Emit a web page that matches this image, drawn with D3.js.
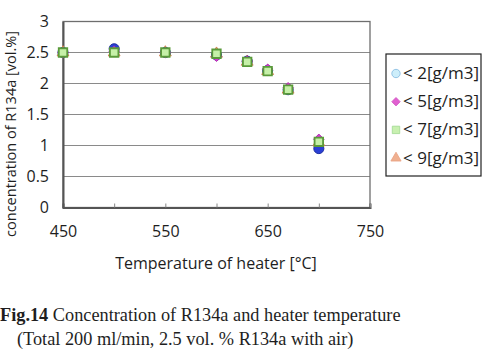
<!DOCTYPE html>
<html><head><meta charset="utf-8">
<script src="https://cdn.jsdelivr.net/npm/d3@7"></script>
<style>body{margin:0;background:#fff}svg{display:block}</style>
</head><body>
<script>
const xTicks = [450, 500, 550, 600, 650, 700, 750];
const xLabels = [450, 550, 650, 750];
const yTicks = [0, 0.5, 1, 1.5, 2, 2.5, 3];
const seriesNames = ["< 2[g/m3]", "< 5[g/m3]", "< 7[g/m3]", "< 9[g/m3]"];
const temp2 = [450, 500, 550, 600, 630, 650, 670, 700];
const conc2 = [2.5, 2.56, 2.5, 2.46, 2.36, 2.21, 1.9, 0.95];
const temp5 = [450, 500, 550, 600, 630, 650, 670, 700];
const conc5 = [2.5, 2.52, 2.5, 2.44, 2.36, 2.23, 1.93, 1.1];
const temp7 = [450, 500, 550, 600, 630, 650, 670, 700];
const conc7 = [2.5, 2.5, 2.5, 2.48, 2.35, 2.2, 1.9, 1.06];
const temp9 = [450, 500, 550, 600, 630, 650, 670, 700];
const conc9 = [2.5, 2.5, 2.5, 2.48, 2.35, 2.2, 1.9, 1.05];

const W = 485, H = 360;
const svg = d3.select("body").append("svg").attr("width", W).attr("height", H);
const m = {l: 63, r: 370, t: 21.5, b: 207.5};
const x = d3.scaleLinear().domain([450, 750]).range([m.l, m.r]);
const y = d3.scaleLinear().domain([0, 3]).range([m.b, m.t]);
const font = "'Open Sans', sans-serif";
const ink = "#1e1e1e";

// grid
svg.append("g").selectAll("line").data(yTicks.filter(d => d > 0 && d < 3)).join("line")
  .attr("x1", m.l).attr("x2", m.r).attr("y1", d => y(d)).attr("y2", d => y(d))
  .attr("stroke", "#8a8a8a").attr("stroke-width", 1.1);

// frame
svg.append("rect").attr("x", m.l).attr("y", m.t).attr("width", m.r - m.l).attr("height", m.b - m.t)
  .attr("fill", "none").attr("stroke", "#6e6e6e").attr("stroke-width", 1.3);

// x axis
const xAxis = d3.axisBottom(x).tickValues(xTicks).tickSize(-4).tickFormat(d => xLabels.includes(d) ? d : "");
const gx = svg.append("g").attr("transform", `translate(0,${m.b})`).call(xAxis);
gx.select(".domain").attr("stroke", "#555").attr("stroke-width", 2);
gx.selectAll(".tick line").attr("stroke", "#888");
gx.selectAll(".tick text").attr("font-family", font).attr("font-size", 16).attr("fill", ink)
  .attr("y", 0).attr("dy", "1.85em");

// y axis
const yAxis = d3.axisLeft(y).tickValues(yTicks).tickSize(0).tickPadding(14).tickFormat(d => d);
const gy = svg.append("g").attr("transform", `translate(${m.l},0)`).call(yAxis);
gy.select(".domain").attr("stroke", "#555").attr("stroke-width", 2);
gy.selectAll(".tick text").attr("font-family", font).attr("font-size", 16).attr("fill", ink);

// axis titles
svg.append("text").attr("transform", "translate(15.5,134) rotate(-90)").attr("text-anchor", "middle")
  .attr("font-family", font).attr("font-size", 14.5).attr("fill", ink).text("concentration of R134a [vol.%]");
svg.append("text").attr("x", 216).attr("y", 269).attr("text-anchor", "middle")
  .attr("font-family", font).attr("font-size", 16).attr("fill", ink).text("Temperature of heater [°C]");

// markers
const sym = [d3.symbolCircle, d3.symbolDiamond2, d3.symbolSquare, d3.symbolTriangle];
const fills = ["#2a3fd6", "#d040d0", "#c6f0a8", "#f0a878"];
const strokes = ["#1f2fa0", "#b030b0", "#5a9a3a", "#d08050"];
const sizes = [80, 70, 72, 60];
const data = [
  temp2.map((t, i) => [t, conc2[i]]),
  temp5.map((t, i) => [t, conc5[i]]),
  temp7.map((t, i) => [t, conc7[i]]),
  temp9.map((t, i) => [t, conc9[i]])
];
// draw order: triangles (<9), circles, diamonds, squares on top
const order = [3, 0, 1, 2];
order.forEach(k => {
  svg.append("g").selectAll("path").data(data[k]).join("path")
    .attr("transform", d => `translate(${x(d[0])},${y(d[1])})`)
    .attr("d", d3.symbol(sym[k], sizes[k]))
    .attr("fill", fills[k]).attr("stroke", strokes[k]).attr("stroke-width", k === 2 ? 1.8 : 1);
});

// legend
const lg = svg.append("g");
lg.append("rect").attr("x", 386).attr("y", 54).attr("width", 95).attr("height", 122)
  .attr("fill", "#fff").attr("stroke", "#222").attr("stroke-width", 1.2);
const lfill = ["#cdeefa", "#e060d0", "#c8f0b0", "#f0b090"];
const lstroke = ["#80b8e0", "#d050c0", "#a0d890", "#e8a080"];
const lsize = [55, 45, 55, 45];
seriesNames.forEach((n, i) => {
  const yy = 73.5 + i * 28.2;
  lg.append("path").attr("transform", `translate(396,${yy})`).attr("d", d3.symbol(sym[i], lsize[i]))
    .attr("fill", lfill[i]).attr("stroke", lstroke[i]).attr("stroke-width", 0.8);
  lg.append("text").attr("x", 403).attr("y", yy + 5.5).attr("font-family", font).attr("font-size", 16.5)
    .attr("fill", ink).attr("textLength", 76).attr("lengthAdjust", "spacingAndGlyphs").text(n);
});

// caption
const serif = "'Liberation Serif', 'Times New Roman', serif";
const cap = svg.append("text").attr("x", 0).attr("y", 321).attr("font-family", serif)
  .attr("font-size", 18.3).attr("fill", ink);
cap.append("tspan").attr("font-weight", "bold").text("Fig.14");
cap.append("tspan").text(" Concentration of R134a and heater temperature");
svg.append("text").attr("x", 17).attr("y", 345).attr("font-family", serif)
  .attr("font-size", 18.3).attr("fill", ink).text("(Total 200 ml/min, 2.5 vol. % R134a with air)");
</script>
</body></html>
